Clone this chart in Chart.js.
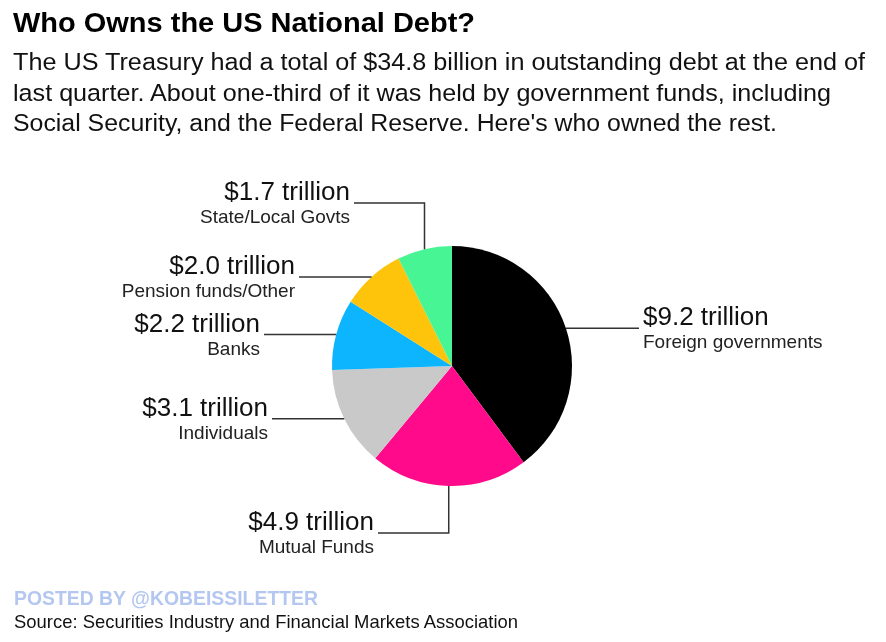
<!DOCTYPE html>
<html>
<head>
<meta charset="utf-8">
<script src="https://cdn.jsdelivr.net/npm/chart.js@4"></script>
<style>
  html, body { margin: 0; padding: 0; background: #fff; }
  #page { position: relative; width: 886px; height: 642px; overflow: hidden; font-family: "Liberation Sans", Arial, Helvetica, sans-serif; }
  #wrap { position: absolute; left: 0; top: 0; width: 886px; height: 642px; }
  .t { position: absolute; left: 13px; white-space: nowrap; transform-origin: 0 0; }
  #title { font-weight: bold; color: #000; }
  .sub { color: #111; }
  #posted { font-weight: bold; color: #b4c7f0; left: 14px; }
  #source { color: #111; left: 14px; }
</style>
</head>
<body>
<div id="page">
  <div id="wrap"><canvas id="pie"></canvas></div>
  <div class="t" id="title" data-s="25" data-b="33" data-w="462">Who Owns the US National Debt?</div>
  <div class="t sub" data-s="22" data-b="70.5" data-w="852">The US Treasury had a total of $34.8 billion in outstanding debt at the end of</div>
  <div class="t sub" data-s="22" data-b="101.5" data-w="818">last quarter. About one-third of it was held by government funds, including</div>
  <div class="t sub" data-s="22" data-b="132" data-w="764">Social Security, and the Federal Reserve. Here's who owned the rest.</div>
  <div class="t" id="posted" data-s="19.5" data-b="605" data-w="304">POSTED BY @KOBEISSILETTER</div>
  <div class="t" id="source" data-s="17" data-b="629" data-w="504">Source: Securities Industry and Financial Markets Association</div>
</div>
<script>
// data, in trillions of dollars
var holders = ["Foreign governments", "Mutual Funds", "Individuals", "Banks", "Pension funds/Other", "State/Local Govts"];
var amounts = [9.2, 4.9, 3.1, 2.2, 2.0, 1.7];
var valueLabels = ["$9.2 trillion", "$4.9 trillion", "$3.1 trillion", "$2.2 trillion", "$2.0 trillion", "$1.7 trillion"];
var colors = ["#000000", "#ff0a8a", "#c9c9c9", "#0db5ff", "#fdc40b", "#47f594"];

// where each callout goes (canvas pixels): elbowY = vertical leg first
var callouts = [
    { side: "right", end: 639 },
    { side: "left", end: 378, elbowY: 533 },
    { side: "left", end: 272 },
    { side: "left", end: 264 },
    { side: "left", end: 299 },
    { side: "left", end: 354, elbowY: 203 }
];

// size the html text lines to the widths in the picture,
// half by font size and half by horizontal stretch
document.querySelectorAll(".t").forEach(function (el) {
    var s = parseFloat(el.dataset.s);
    el.style.fontSize = s + "px";
    el.style.lineHeight = s + "px";
    var w = el.getBoundingClientRect().width;
    var ratio = parseFloat(el.dataset.w) / w;
    var k = Math.sqrt(ratio);
    var s2 = s * k;
    el.style.fontSize = s2 + "px";
    el.style.lineHeight = s2 + "px";
    el.style.top = (parseFloat(el.dataset.b) - 0.8465 * s2) + "px";
    var w2 = el.getBoundingClientRect().width;
    el.style.transform = "scaleX(" + (parseFloat(el.dataset.w) / w2) + ")";
});

var calloutPlugin = {
    id: "callouts",
    afterDraw: function (chart) {
        var ctx = chart.ctx;
        var arcs = chart.getDatasetMeta(0).data;
        ctx.save();
        arcs.forEach(function (arc, i) {
            var p = arc.getProps(["x", "y", "startAngle", "endAngle", "outerRadius"], true);
            var mid = (p.startAngle + p.endAngle) / 2;
            var ax = p.x + p.outerRadius * Math.cos(mid);
            var ay = p.y + p.outerRadius * Math.sin(mid);
            var c = callouts[i];
            var lineY = ay;
            ctx.strokeStyle = "#333";
            ctx.lineWidth = 1.5;
            ctx.beginPath();
            ctx.moveTo(ax, ay);
            if (c.elbowY !== undefined) {
                lineY = c.elbowY;
                ctx.lineTo(ax, lineY);
            }
            ctx.lineTo(c.end, lineY);
            ctx.stroke();

            var tx = c.side === "right" ? c.end + 4 : c.end - 4;
            ctx.textAlign = c.side === "right" ? "left" : "right";
            ctx.textBaseline = "alphabetic";
            ctx.fillStyle = "#111";
            ctx.font = "26px 'Liberation Sans', Arial, sans-serif";
            ctx.fillText(valueLabels[i], tx, lineY - 3);
            ctx.fillStyle = "#222";
            ctx.font = "19px 'Liberation Sans', Arial, sans-serif";
            ctx.fillText(holders[i], tx, lineY + 20);
        });
        ctx.restore();
    }
};

new Chart(document.getElementById("pie"), {
    type: "pie",
    data: {
        labels: holders,
        datasets: [{
            data: amounts,
            backgroundColor: colors,
            borderWidth: 0
        }]
    },
    options: {
        responsive: true,
        maintainAspectRatio: false,
        animation: false,
        layout: { padding: { left: 332, right: 314, top: 246, bottom: 156 } },
        plugins: {
            legend: { display: false },
            tooltip: { enabled: false },
            title: { display: false }
        }
    },
    plugins: [calloutPlugin]
});
</script>
</body>
</html>
